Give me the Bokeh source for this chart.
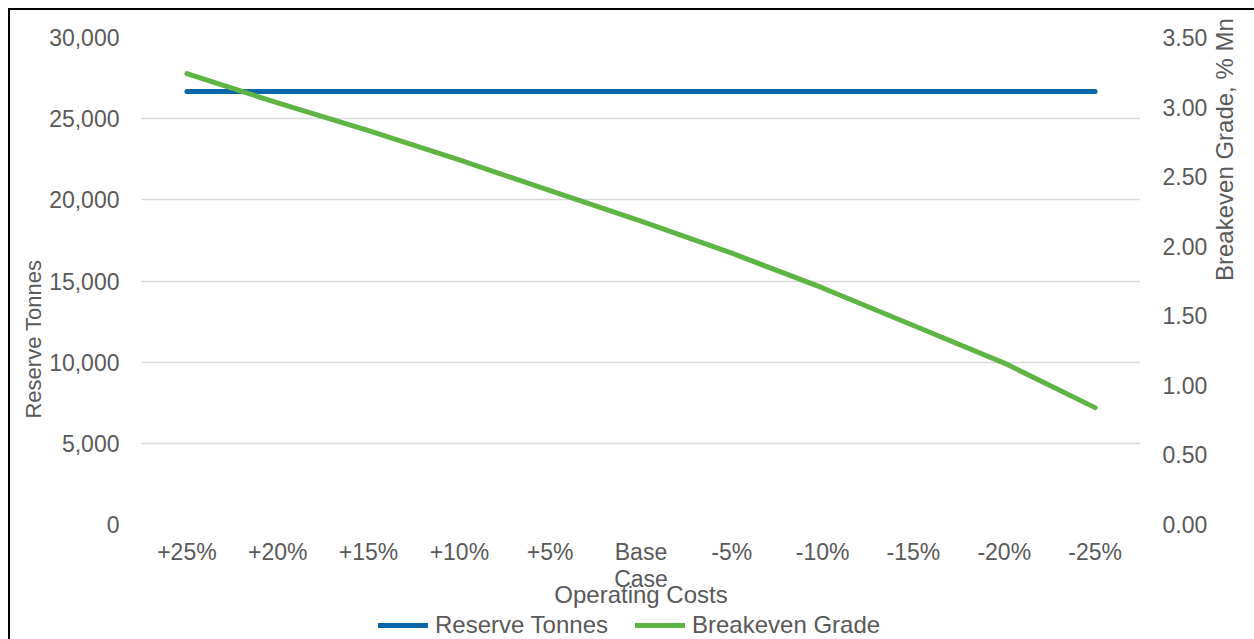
import math
from bokeh.plotting import figure
from bokeh.layouts import column
from bokeh.models import (Range1d, LinearAxis, FactorRange, Legend, LegendItem,
                          NumeralTickFormatter, FixedTicker)
from bokeh.embed import file_html
from bokeh.resources import INLINE

categories = ["+25%", "+20%", "+15%", "+10%", "+5%", "Base\nCase",
              "-5%", "-10%", "-15%", "-20%", "-25%"]
reserve_tonnes = [26680, 26680, 26680, 26680, 26680, 26680,
                  26680, 26680, 26680, 26680, 26680]
breakeven_grade = [3.24, 3.03, 2.83, 2.62, 2.40, 2.18, 1.95, 1.70, 1.43, 1.16, 0.84]
left_ticks = [0, 5000, 10000, 15000, 20000, 25000, 30000]
right_ticks = [0.0, 0.5, 1.0, 1.5, 2.0, 2.5, 3.0, 3.5]
series_names = ["Reserve Tonnes", "Breakeven Grade"]

BLUE = "#0A66AA"
GREEN = "#5FB446"
TXT = "#595959"
FONT = "Liberation Sans"
PAD_L = "\u00a0" * 19

p = figure(x_range=FactorRange(*categories), y_range=Range1d(0, 30000),
           width=1244, height=600, output_backend="svg", toolbar_location=None,
           min_border_left=131, min_border_right=111, min_border_top=27,
           min_border_bottom=86, outline_line_color=None)

p.extra_y_ranges = {"grade": Range1d(0, 3.5)}
right = LinearAxis(y_range_name="grade", ticker=FixedTicker(ticks=right_ticks),
                   formatter=NumeralTickFormatter(format="0.00"))
p.add_layout(right, "right")

# title-only axis on the right (label anchored low on the axis, as in the source)
right_title = LinearAxis(y_range_name="grade", ticker=FixedTicker(ticks=[]),
                         axis_label="Breakeven Grade, % Mn", bounds=(0, 0.733))
p.add_layout(right_title, "right")

left = p.yaxis[0]
left.ticker = FixedTicker(ticks=left_ticks)
left.formatter = NumeralTickFormatter(format="0,0")
left.axis_label = "Reserve Tonnes" + PAD_L

bottom = p.xaxis[0]
bottom.axis_label = "Operating Costs"

for ax in [left, right, right_title, bottom]:
    ax.axis_line_color = None
    ax.major_tick_line_color = None
    ax.minor_tick_line_color = None
    ax.major_tick_out = 0
    ax.major_tick_in = 0
    ax.major_label_text_font = FONT
    ax.major_label_text_font_size = "23px"
    ax.major_label_text_color = TXT
    ax.axis_label_text_font = FONT
    ax.axis_label_text_font_size = "22px"
    ax.axis_label_text_font_style = "normal"
    ax.axis_label_text_color = TXT

bottom.axis_label_text_font_size = "24px"
right_title.axis_label_text_font_size = "24px"
right_title.axis_label_text_line_height = 1.0
right_title.major_label_standoff = 0
try:
    right_title.axis_label_orientation = math.pi / 2
except Exception:
    pass

bottom.major_label_text_line_height = 1.05

left.major_label_standoff = 22
left.axis_label_standoff = 0
right.major_label_standoff = 22
right_title.axis_label_standoff = 14
bottom.major_label_standoff = 14
bottom.axis_label_standoff = -14

p.ygrid.ticker = FixedTicker(ticks=left_ticks)
p.ygrid.grid_line_color = "#D9D9D9"
p.ygrid.grid_line_width = 1.5
p.xgrid.grid_line_color = None

r1 = p.line(categories, reserve_tonnes, line_width=5, color=BLUE, line_cap="round")
r2 = p.line(categories, breakeven_grade, y_range_name="grade", line_width=5,
            color=GREEN, line_cap="round", line_join="round")

# legend strip underneath (same line styles; lines lie outside this strip's ranges)
q = figure(width=1244, height=29, output_backend="svg", toolbar_location=None,
           x_range=Range1d(0, 1), y_range=Range1d(0, 1), min_border=0,
           x_axis_location=None, y_axis_location=None, outline_line_color=None)
q.grid.visible = False
l1 = q.line(x=[-2, -1], y=[-2, -2], line_width=5, color=BLUE, line_cap="round")
l2 = q.line(x=[-2, -1], y=[-2, -2], line_width=5, color=GREEN, line_cap="round")
legend = Legend(items=[LegendItem(label=series_names[0], renderers=[l1]),
                       LegendItem(label=series_names[1], renderers=[l2])],
                orientation="horizontal", location=(237, 0),
                glyph_width=50, glyph_height=20, label_standoff=7, spacing=27,
                padding=0, margin=0, border_line_color=None,
                background_fill_alpha=0, label_text_font=FONT,
                label_text_font_size="24px", label_text_color=TXT)
q.add_layout(legend)

layout = column(p, q, spacing=0)
layout.styles = {"position": "relative", "left": "8px", "top": "8px",
                 "border-left": "2px solid black", "border-top": "2px solid black"}

open("out.html", "w").write(file_html(layout, INLINE))
